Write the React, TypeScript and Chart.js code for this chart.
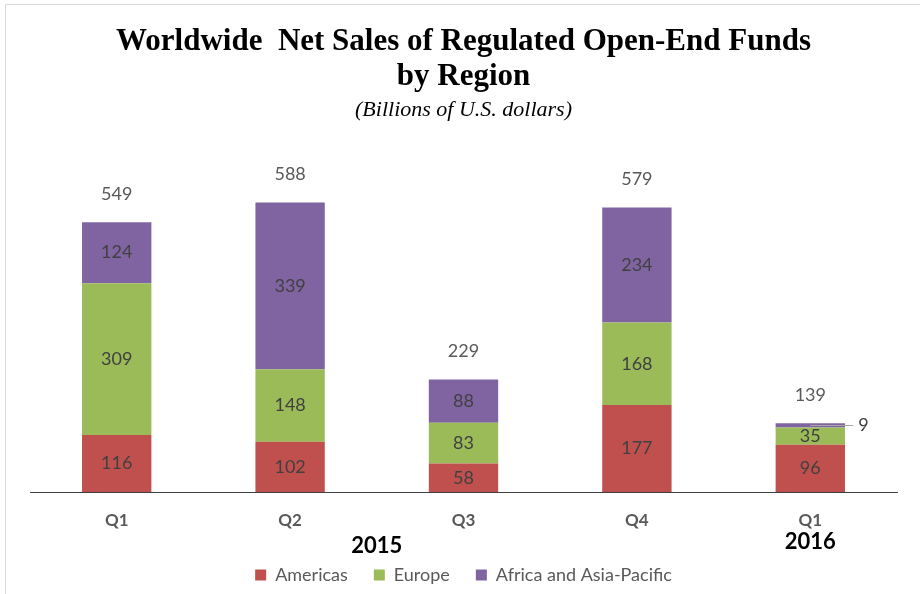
import React, { useEffect, useRef } from "react";
import { Chart, registerables } from "chart.js";

Chart.register(...registerables);

const categories = ["Q1", "Q2", "Q3", "Q4", "Q1"];
const americas = [116, 102, 58, 177, 96];
const europe = [309, 148, 83, 168, 35];
const africaAsiaPacific = [124, 339, 88, 234, 9];
const totals = [549, 588, 229, 579, 139];
const yearLabels = ["2015", "2016"];
const yearSpans = [
  [0, 3],
  [4, 4],
];

const LABEL_FONT = "Lato, 'Noto Sans', sans-serif";

const framePlugin = {
  id: "frame",
  beforeDraw(chart: any) {
    const { ctx, width, height } = chart;
    ctx.save();
    ctx.fillStyle = "#ffffff";
    ctx.fillRect(0, 0, width, height);
    ctx.strokeStyle = "#d9d9d9";
    ctx.lineWidth = 1;
    ctx.beginPath();
    ctx.moveTo(5.5, height);
    ctx.lineTo(5.5, 4.5);
    ctx.lineTo(width, 4.5);
    ctx.stroke();
    ctx.restore();
  },
};

const labelsPlugin = {
  id: "barLabels",
  afterDatasetsDraw(chart: any) {
    const { ctx } = chart;
    const yScale = chart.scales.y;
    const xScale = chart.scales.x;
    ctx.save();
    ctx.font = `18px ${LABEL_FONT}`;
    ctx.textBaseline = "middle";
    chart.data.datasets.forEach((ds: any, di: number) => {
      const meta = chart.getDatasetMeta(di);
      meta.data.forEach((bar: any, i: number) => {
        const v = ds.data[i];
        const mid = (bar.y + bar.base) / 2;
        const h = Math.abs(bar.base - bar.y);
        if (h < 14) {
          ctx.strokeStyle = "#a6a6a6";
          ctx.lineWidth = 1;
          ctx.beginPath();
          ctx.moveTo(bar.x, Math.round(mid) + 0.5);
          ctx.lineTo(bar.x + 43, Math.round(mid) + 0.5);
          ctx.stroke();
          ctx.fillStyle = "#404040";
          ctx.textAlign = "left";
          ctx.fillText(String(v), bar.x + 48, mid);
        } else {
          ctx.fillStyle = "#404040";
          ctx.textAlign = "center";
          ctx.fillText(String(v), bar.x, mid);
        }
      });
    });
    // totals
    ctx.fillStyle = "#595959";
    ctx.textAlign = "center";
    totals.forEach((t, i) => {
      let sum = 0;
      chart.data.datasets.forEach((ds: any) => (sum += ds.data[i]));
      const x = xScale.getPixelForValue(i);
      const y = yScale.getPixelForValue(sum) - 28;
      ctx.fillText(String(t), x, y);
    });
    // year labels
    ctx.fillStyle = "#000000";
    ctx.font = `bold 22px ${LABEL_FONT}`;
    yearLabels.forEach((lab, k) => {
      const [a, b] = yearSpans[k];
      const x = (xScale.getPixelForValue(a) + xScale.getPixelForValue(b)) / 2;
      const y = a === b ? 542 : 546;
      ctx.fillText(lab, x, y);
    });
    ctx.restore();
  },
};

export default function App() {
  const ref = useRef<HTMLCanvasElement | null>(null);
  useEffect(() => {
    if (!ref.current) return;
    const chart = new Chart(ref.current, {
      type: "bar",
      data: {
        labels: categories,
        datasets: [
          { label: "Americas", data: americas, backgroundColor: "#C0504D" },
          { label: "Europe", data: europe, backgroundColor: "#9BBB59" },
          {
            label: "Africa and Asia-Pacific",
            data: africaAsiaPacific,
            backgroundColor: "#8064A2",
          },
        ],
      },
      options: {
        animation: false,
        responsive: false,
        maintainAspectRatio: false,
        devicePixelRatio: 1,
        datasets: { bar: { barPercentage: 0.4, categoryPercentage: 1 } },
        layout: { padding: { left: 30, right: 23, top: 0, bottom: 0 } },
        scales: {
          x: {
            stacked: true,
            grid: { display: false, drawTicks: false },
            border: { display: true, color: "#404040", width: 1 },
            ticks: {
              color: "#595959",
              font: { family: LABEL_FONT, size: 17, weight: "bold" },
              padding: 18,
            },
            afterFit: (scale: any) => {
              scale.height = 48;
            },
          },
          y: {
            stacked: true,
            display: false,
            min: 0,
            max: 700,
          },
        },
        plugins: {
          title: {
            display: true,
            text: ["Worldwide  Net Sales of Regulated Open-End Funds", "by Region"],
            color: "#000000",
            font: {
              family: "'Liberation Serif', 'Times New Roman', serif",
              size: 31,
              weight: "bold",
              lineHeight: 1.15,
            },
            padding: { top: 24, bottom: 0 },
          },
          subtitle: {
            display: true,
            text: "(Billions of U.S. dollars)",
            color: "#000000",
            font: {
              family: "'Liberation Serif', 'Times New Roman', serif",
              size: 22,
              style: "italic",
              lineHeight: 1.2,
            },
            padding: { top: 1.5, bottom: 24.8 },
          },
          legend: {
            position: "bottom",
            labels: {
              boxWidth: 11,
              boxHeight: 11,
              padding: 26,
              color: "#595959",
              font: { family: LABEL_FONT, size: 18 },
            },
          },
          tooltip: { enabled: false },
        },
      },
      plugins: [framePlugin, labelsPlugin],
    });
    return () => chart.destroy();
  }, []);
  return (
    <div style={{ position: "fixed", left: 0, top: 0, width: 920, height: 594 }}>
      <canvas ref={ref} width={920} height={594} style={{ display: "block" }} />
    </div>
  );
}
